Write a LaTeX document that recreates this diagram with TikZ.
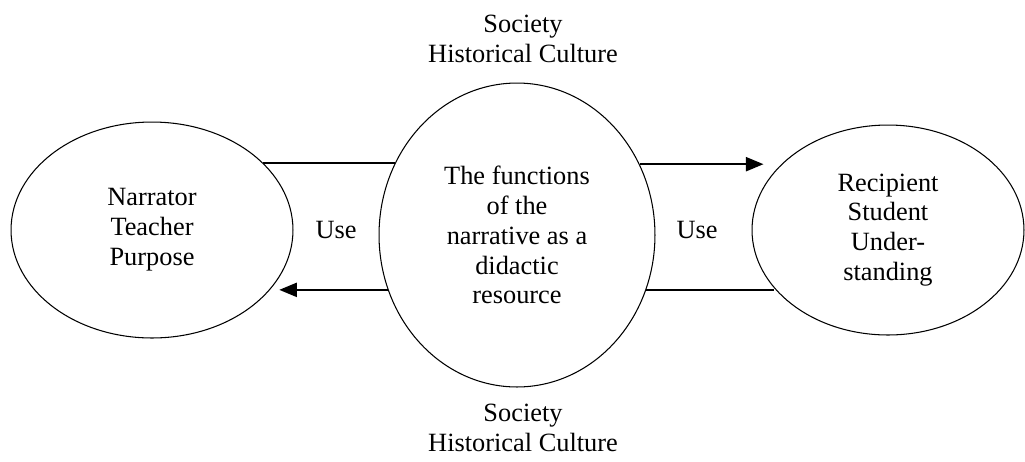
\documentclass[tikz,border=0pt]{standalone}
\usepackage{fontspec}
\setmainfont{Liberation Serif}
\usetikzlibrary{shapes.geometric,arrows.meta}

\begin{document}
\begin{tikzpicture}[x=0.02cm,y=-0.02cm,
	oval/.style={ellipse,draw,line width=0.6pt,inner sep=0pt,align=center,font=\fontsize{15}{17}\selectfont},
	txt/.style={align=center,font=\fontsize{15}{17}\selectfont},
	link/.style={line width=1.1pt},
	flow/.style={line width=1.1pt,-{Triangle[length=10pt,width=8pt]}}]
\useasboundingbox (0,0) rectangle (1025,461);

\node[oval,minimum width=5.64cm,minimum height=4.32cm] (narrator) at (152,230) {Narrator\\Teacher\\Purpose};
\node[oval,minimum width=5.52cm,minimum height=6.08cm] (functions) at (517,235) {The functions\\of the\\narrative as a\\didactic\\resource};
\node[oval,minimum width=5.44cm,minimum height=4.2cm] (recipient) at (888,230) {Recipient\\Student\\Under-\\standing};

\node[txt] (top) at (523,39) {Society\\Historical Culture};
\node[txt] (bottom) at (523,428) {Society\\Historical Culture};
\node[txt] (use1) at (336,230) {Use};
\node[txt] (use2) at (697,230) {Use};

\draw[link] (narrator.31.35) -- (narrator.31.35 -| functions.149.35);
\draw[flow,shorten >=0.22cm] (functions.203.14) -- (functions.203.14 -| narrator.332.89);
\draw[flow,shorten >=0.4cm] (functions.30.65) -- (functions.30.65 -| recipient.147.39);
\draw[link] (functions.337.71) -- (functions.337.71 -| recipient.207.09);
\end{tikzpicture}
\end{document}
